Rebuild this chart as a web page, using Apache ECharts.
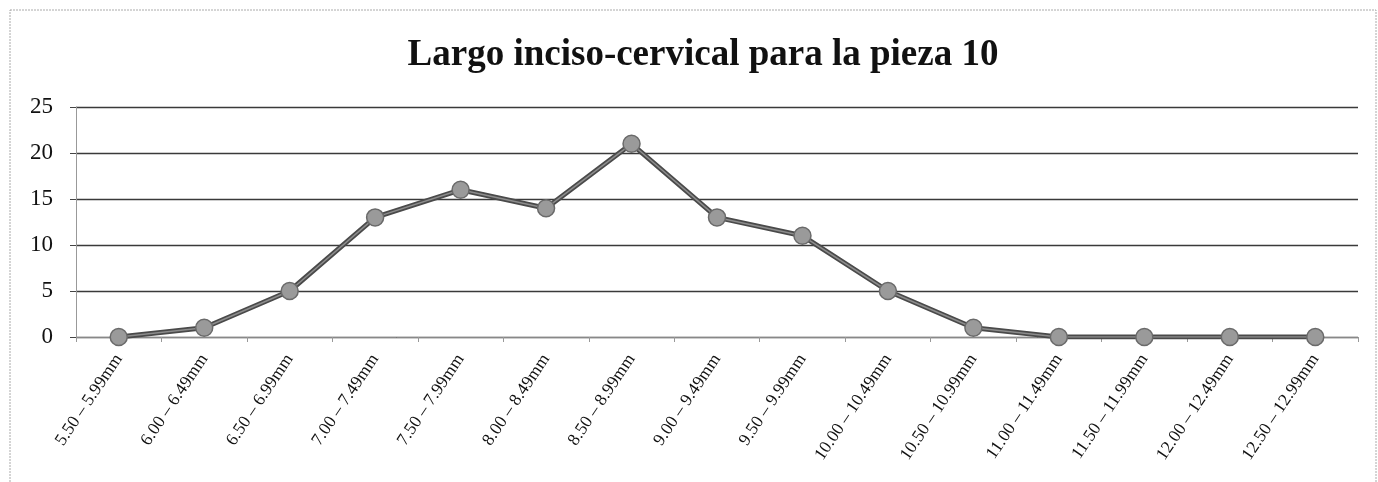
<!DOCTYPE html>
<html>
<head>
<meta charset="utf-8">
<script src="https://cdn.jsdelivr.net/npm/echarts@6/dist/echarts.min.js"></script>
<style>
  html, body { margin: 0; padding: 0; background: #fff; }
  #chart { width: 1378px; height: 482px; }
</style>
</head>
<body>
<div id="chart"></div>
<script>
const categories = [
  '5.50 – 5.99mm', '6.00 – 6.49mm', '6.50 – 6.99mm', '7.00 – 7.49mm', '7.50 – 7.99mm',
  '8.00 – 8.49mm', '8.50 – 8.99mm', '9.00 – 9.49mm', '9.50 – 9.99mm', '10.00 – 10.49mm',
  '10.50 – 10.99mm', '11.00 – 11.49mm', '11.50 – 11.99mm', '12.00 – 12.49mm', '12.50 – 12.99mm'
]
const counts = [0, 1, 5, 13, 16, 14, 21, 13, 11, 5, 1, 0, 0, 0, 0]

const serif = '"Liberation Serif", "DejaVu Serif", serif'

const chart = echarts.init(document.getElementById('chart'))

chart.setOption({
  animation: false,
  title: {
    text: 'Largo inciso-cervical para la pieza 10',
    left: 698,
    textAlign: 'center',
    top: 32,
    textStyle: {
      fontFamily: serif,
      fontSize: 37,
      fontWeight: 'bold',
      color: '#111'
    }
  },
  graphic: [
    {
      type: 'rect',
      shape: { x: 10, y: 10, width: 1366, height: 490 },
      style: { fill: 'none', stroke: '#aaa', lineWidth: 1, lineDash: [2, 1] },
      silent: true
    }
  ],
  grid: {
    left: 76,
    right: 20,
    top: 107,
    bottom: 145
  },
  xAxis: {
    type: 'category',
    data: categories,
    boundaryGap: true,
    axisLine: { lineStyle: { color: '#888', width: 1 } },
    axisTick: { show: true, length: 5, lineStyle: { color: '#999' } },
    axisLabel: {
      rotate: 56,
      margin: 19,
      fontFamily: serif,
      fontSize: 17.5,
      color: '#111'
    }
  },
  yAxis: {
    type: 'value',
    min: 0,
    max: 25,
    interval: 5,
    axisLine: { show: true, lineStyle: { color: '#999', width: 1 } },
    axisTick: { show: true, length: 6, lineStyle: { color: '#444' } },
    axisLabel: {
      margin: 23,
      fontFamily: serif,
      fontSize: 23,
      color: '#111'
    },
    splitLine: { lineStyle: { color: '#3a3a3a', width: 1.3 } }
  },
  series: [
    {
      type: 'line',
      data: counts,
      symbol: 'none',
      z: 2,
      lineStyle: { color: '#4a4a4a', width: 5 }
    },
    {
      type: 'line',
      data: counts,
      symbol: 'circle',
      symbolSize: 17,
      z: 3,
      lineStyle: { color: '#8c8c8c', width: 1.5 },
      itemStyle: { color: '#9a9a9a', borderColor: '#6a6a6a', borderWidth: 1.5 }
    }
  ]
})
</script>
</body>
</html>
